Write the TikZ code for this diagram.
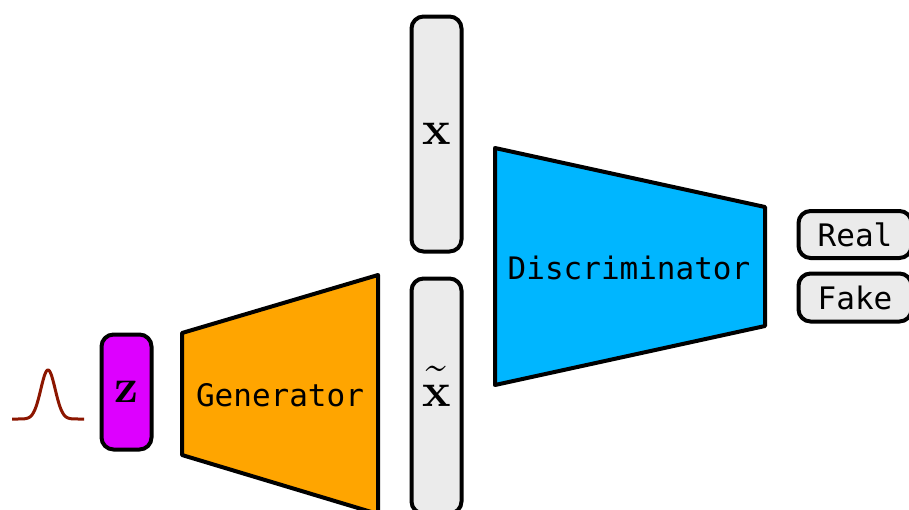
\RequirePackage{fix-cm}
\documentclass[tikz,border=0pt]{standalone}
\usepackage[no-math]{fontspec}
\setmonofont{DejaVu Sans Mono}
\usepackage{tikz}

\definecolor{zcol}{RGB}{221,0,255}
\definecolor{gencol}{RGB}{255,165,0}
\definecolor{disccol}{RGB}{0,182,255}
\definecolor{boxgray}{RGB}{235,235,235}
\definecolor{pdfred}{RGB}{140,22,0}

\newcommand{\bigvec}[1]{\hbox{\fontsize{48}{52}\selectfont\bfseries #1}}
% bold vector with a thin tilde on top
\newcommand{\tildevec}[1]{\ooalign{\bigvec{#1}\cr
  \hidewidth\raisebox{-1pt}{\fontsize{64}{64}\selectfont\char"02DC}\hidewidth\cr}}

\begin{document}
\begin{tikzpicture}[x=1pt,y=-1pt,line width=4pt,line join=round,
  vecbox/.style={draw,rounded corners=12pt,fill=boxgray,inner sep=0pt},
  netlabel/.style={font=\fontsize{31}{36}\selectfont\ttfamily},
  veclabel/.style={font=\fontsize{32}{36}\selectfont}]
\clip (0,0) rectangle (909,509);

% prior density
\draw[pdfred,line width=3pt,domain=12:84,samples=120,smooth]
  plot (\x,{419-49*exp(-((\x-48)^2)/(2*7.2^2))});

% latent code
\node[vecbox,fill=zcol,minimum width=50pt,minimum height=115pt,veclabel] (z) at (126.5,392) {\bigvec{z}};

% generator
\draw[fill=gencol] (182,333) -- (378,275) -- (378,514) -- (182,455) -- cycle;
\node[netlabel] (gen) at (280,395) {Generator};

% real and generated samples
\node[vecbox,minimum width=50pt,minimum height=235pt,veclabel] (x) at (436.5,134) {\bigvec{x}};
\node[vecbox,minimum width=50pt,minimum height=235pt,veclabel,text height=21pt,text depth=0pt] (xt) at (436.5,396) {\tildevec{x}};

% discriminator
\draw[fill=disccol] (495,148) -- (765,207) -- (765,326) -- (495,385) -- cycle;
\node[netlabel] (disc) at (629,268) {Discriminator};

% outputs
\node[vecbox,minimum width=113pt,minimum height=47pt,netlabel] (real) at (855,234.5) {Real};
\node[vecbox,minimum width=113pt,minimum height=48pt,netlabel] (fake) at (855,297.5) {Fake};
\end{tikzpicture}
\end{document}
